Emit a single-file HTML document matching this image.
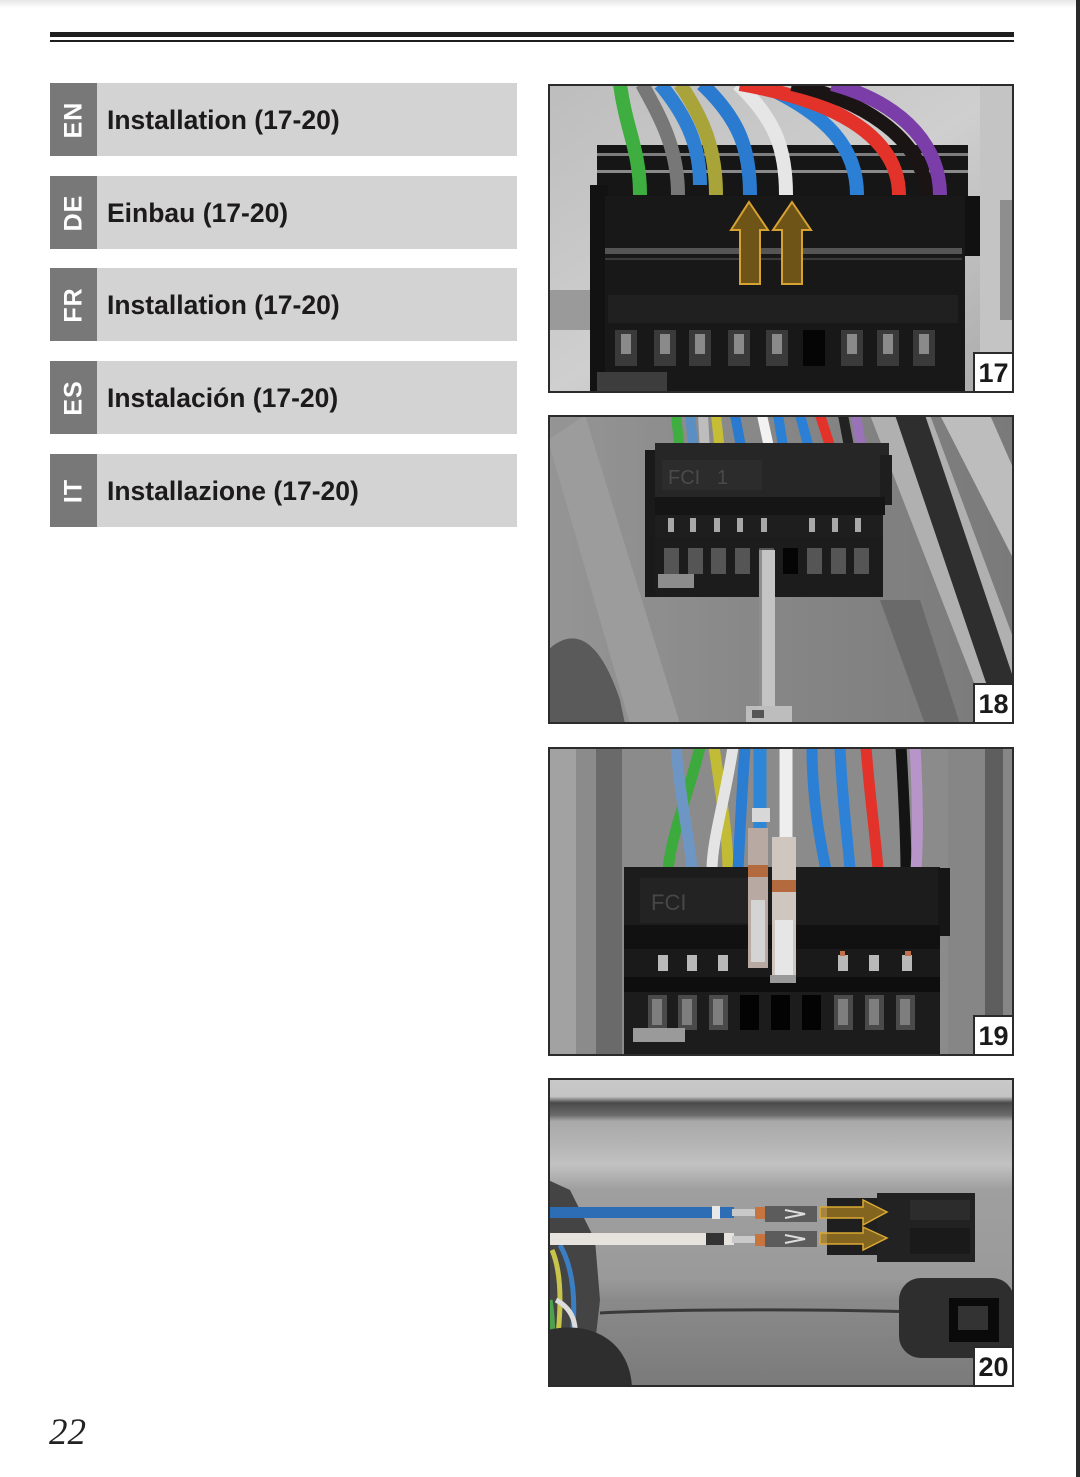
<!DOCTYPE html>
<html><head><meta charset="utf-8">
<style>
html,body{margin:0;padding:0;background:#fff;}
body{width:1080px;height:1477px;position:relative;overflow:hidden;font-family:"Liberation Sans",sans-serif;}
.abs{position:absolute;}
.bar{position:absolute;left:50px;width:467px;height:73px;background:#d3d3d3;}
.tab{position:absolute;left:0;top:0;width:47px;height:73px;background:#787878;}
.tab span{position:absolute;left:50%;top:50%;transform:translate(-50%,-50%) rotate(-90deg);color:#fff;font-weight:bold;font-size:25px;letter-spacing:1px;white-space:nowrap;line-height:1;}
.bar .t{position:absolute;left:57px;top:1px;line-height:73px;font-weight:bold;font-size:26.5px;color:#1c1a1a;white-space:nowrap;letter-spacing:0;}
.photo{position:absolute;left:548px;width:466px;height:309px;box-sizing:border-box;border:2px solid #2b2b2b;overflow:hidden;}
.photo svg{position:absolute;left:-2px;top:-2px;}
.num{position:absolute;right:-2px;bottom:-2px;width:41px;height:41px;box-sizing:border-box;border:2px solid #2b2b2b;background:#fff;font-weight:bold;font-size:27px;line-height:38px;text-align:center;color:#1a1a1a;}
</style></head>
<body>
<div class="abs" style="left:0;top:0;width:1080px;height:8px;background:linear-gradient(#e6e6e6,#fff);"></div>
<div class="abs" style="left:1076px;top:0;width:4px;height:1477px;background:#2a2a2a;"></div>
<div class="abs" style="left:50px;top:32px;width:964px;height:5px;background:#1e1e1e;"></div>
<div class="abs" style="left:50px;top:40px;width:964px;height:2px;background:#1e1e1e;"></div>

<div class="bar" style="top:83px;"><div class="tab"><span>EN</span></div><div class="t">Installation (17-20)</div></div>
<div class="bar" style="top:176px;"><div class="tab"><span>DE</span></div><div class="t">Einbau (17-20)</div></div>
<div class="bar" style="top:268px;"><div class="tab"><span>FR</span></div><div class="t">Installation (17-20)</div></div>
<div class="bar" style="top:361px;"><div class="tab"><span>ES</span></div><div class="t">Instalación (17-20)</div></div>
<div class="bar" style="top:454px;"><div class="tab"><span>IT</span></div><div class="t">Installazione (17-20)</div></div>

<!-- Photo 17 -->
<div class="photo" style="top:84px;">
<svg width="466" height="309" viewBox="548 84 466 309">
<defs>
<linearGradient id="g17" x1="0" y1="0" x2="1" y2="1"><stop offset="0" stop-color="#bdbdbd"/><stop offset="0.5" stop-color="#cfcfcf"/><stop offset="1" stop-color="#a9a9a9"/></linearGradient>
</defs>
<rect x="548" y="84" width="466" height="309" fill="url(#g17)"/>
<rect x="548" y="290" width="45" height="40" fill="#9a9a9a"/>
<rect x="980" y="84" width="34" height="309" fill="#c4c4c4"/>
<rect x="1000" y="200" width="14" height="120" fill="#8e8e8e"/>
<!-- connector -->
<rect x="597" y="145" width="371" height="52" fill="#161616"/>
<rect x="597" y="153" width="371" height="3" fill="#7d7d7d"/>
<rect x="597" y="170" width="371" height="3" fill="#8a8a8a"/>
<rect x="590" y="185" width="18" height="208" fill="#121212"/>
<rect x="962" y="196" width="18" height="60" fill="#111"/>
<rect x="605" y="196" width="360" height="197" fill="#181818"/>
<rect x="605" y="248" width="357" height="6" fill="#555"/>
<rect x="605" y="258" width="357" height="2" fill="#3a3a3a"/>
<rect x="608" y="295" width="350" height="28" fill="#202020"/>
<g fill="#3a3a3a">
<rect x="615" y="330" width="22" height="36"/><rect x="654" y="330" width="22" height="36"/><rect x="689" y="330" width="22" height="36"/><rect x="728" y="330" width="22" height="36"/><rect x="766" y="330" width="22" height="36"/><rect x="841" y="330" width="22" height="36"/><rect x="877" y="330" width="22" height="36"/><rect x="913" y="330" width="22" height="36"/>
</g>
<g fill="#8a8a8a">
<rect x="621" y="334" width="10" height="20"/><rect x="660" y="334" width="10" height="20"/><rect x="695" y="334" width="10" height="20"/><rect x="734" y="334" width="10" height="20"/><rect x="772" y="334" width="10" height="20"/><rect x="847" y="334" width="10" height="20"/><rect x="883" y="334" width="10" height="20"/><rect x="919" y="334" width="10" height="20"/>
</g>
<rect x="803" y="330" width="22" height="36" fill="#050505"/>
<rect x="597" y="372" width="70" height="21" fill="#3d3d3d"/>
<!-- wires -->
<g fill="none" stroke-width="14" stroke-linecap="butt">
<path d="M620 84 C626 130 640 150 640 195" stroke="#3dae3f"/>
<path d="M642 84 C662 120 678 150 678 195" stroke="#777"/>
<path d="M660 84 C690 120 700 150 700 185" stroke="#2e7fd2"/>
<path d="M680 84 C704 120 716 150 716 195" stroke="#a9a43a"/>
<path d="M702 84 C740 120 750 150 750 195" stroke="#2a7ad0"/>
<path d="M760 84 C830 115 857 150 857 195" stroke="#2b80d6"/>
<path d="M738 84 C776 120 786 150 786 195" stroke="#e6e6e6"/>
<path d="M740 84 C860 105 899 150 899 195" stroke="#e23229"/>
<path d="M792 84 C880 105 926 150 926 195" stroke="#1b1414"/>
<path d="M832 84 C908 105 940 150 940 195" stroke="#7b3ea8"/>
</g>
<!-- arrows -->
<g fill="#6f5417" stroke="#d6a232" stroke-width="2" stroke-linejoin="miter">
<path d="M749 202 L768 230 L760 230 L760 284 L740 284 L740 230 L731 230 Z"/>
<path d="M792 202 L811 230 L802 230 L802 284 L782 284 L782 230 L773 230 Z"/>
</g>
</svg>
<div class="num">17</div>
</div>

<!-- Photo 18 -->
<div class="photo" style="top:415px;">
<svg width="466" height="309" viewBox="548 415 466 309">
<defs>
<linearGradient id="g18" x1="0" y1="0" x2="1" y2="0"><stop offset="0" stop-color="#959595"/><stop offset="0.5" stop-color="#868686"/><stop offset="1" stop-color="#7a7a7a"/></linearGradient>
</defs>
<rect x="548" y="415" width="466" height="309" fill="url(#g18)"/>
<path d="M548 440 L585 415 L680 724 L630 724 Z" fill="#9c9c9c"/>
<path d="M548 650 C575 625 600 640 620 700 L625 724 L548 724 Z" fill="#5a5a5a"/>
<path d="M870 415 L930 415 L1014 640 L1014 724 L990 724 Z" fill="#b0b0b0"/>
<path d="M895 415 L925 415 L1014 680 L1014 724 L1000 724 Z" fill="#2e2e2e"/>
<path d="M940 415 L990 415 L1014 470 L1014 560 Z" fill="#bdbdbd"/>
<path d="M880 600 L920 600 L960 724 L925 724 Z" fill="#6a6a6a"/>
<!-- wires -->
<g fill="none" stroke-width="10">
<path d="M676 415 L680 452" stroke="#3dae3f"/>
<path d="M690 415 L694 452" stroke="#5b8fc4"/>
<path d="M703 415 L705 452" stroke="#bdbdbd"/>
<path d="M716 415 L720 452" stroke="#c4bd35"/>
<path d="M735 415 L742 452" stroke="#2a7ad0"/>
<path d="M762 415 L770 452" stroke="#f2f2f2"/>
<path d="M778 415 L784 452" stroke="#2b80d6"/>
<path d="M800 415 L810 452" stroke="#2b80d6"/>
<path d="M820 415 L832 452" stroke="#e23229"/>
<path d="M843 415 L850 452" stroke="#222"/>
<path d="M856 415 L862 452" stroke="#9a72b8"/>
</g>
<!-- connector -->
<rect x="645" y="450" width="22" height="147" fill="#1a1a1a"/>
<rect x="655" y="443" width="234" height="54" fill="#262626"/>
<rect x="880" y="455" width="12" height="50" fill="#1e1e1e"/>
<rect x="662" y="460" width="100" height="30" fill="#2c2c2c"/>
<text x="668" y="484" font-family="Liberation Sans,sans-serif" font-size="20" fill="#4a4a4a">FCI&#160;&#160;&#160;1</text>
<rect x="655" y="497" width="230" height="18" fill="#151515"/>
<rect x="655" y="515" width="228" height="22" fill="#1e1e1e"/>
<g fill="#a8a8a8">
<rect x="668" y="518" width="6" height="14"/><rect x="690" y="518" width="6" height="14"/><rect x="714" y="518" width="6" height="14"/><rect x="737" y="518" width="6" height="14"/><rect x="761" y="518" width="6" height="14"/><rect x="809" y="518" width="6" height="14"/><rect x="832" y="518" width="6" height="14"/><rect x="855" y="518" width="6" height="14"/>
</g>
<rect x="655" y="537" width="228" height="60" fill="#1c1c1c"/>
<g fill="#555">
<rect x="664" y="548" width="15" height="26"/><rect x="688" y="548" width="15" height="26"/><rect x="711" y="548" width="15" height="26"/><rect x="735" y="548" width="15" height="26"/><rect x="759" y="548" width="15" height="26"/><rect x="807" y="548" width="15" height="26"/><rect x="831" y="548" width="15" height="26"/><rect x="854" y="548" width="15" height="26"/>
</g>
<rect x="783" y="548" width="15" height="26" fill="#050505"/>
<rect x="658" y="574" width="36" height="14" fill="#8c8c8c"/>
<!-- screwdriver -->
<rect x="759" y="550" width="16" height="162" fill="#c4c4c4"/>
<rect x="759" y="550" width="3" height="162" fill="#8e8e8e"/>
<rect x="746" y="706" width="46" height="20" fill="#bdbdbd"/>
<rect x="752" y="710" width="12" height="8" fill="#555"/>
</svg>
<div class="num">18</div>
</div>

<!-- Photo 19 -->
<div class="photo" style="top:747px;">
<svg width="466" height="309" viewBox="548 747 466 309">
<rect x="548" y="747" width="466" height="309" fill="#8b8b8b"/>
<rect x="548" y="747" width="28" height="309" fill="#a2a2a2"/>
<rect x="596" y="747" width="26" height="309" fill="#6a6a6a"/>
<rect x="948" y="747" width="66" height="309" fill="#868686"/>
<rect x="985" y="747" width="18" height="309" fill="#5e5e5e"/>
<!-- wires -->
<g fill="none" stroke-width="11">
<path d="M700 747 C690 790 672 830 668 870" stroke="#3daa3d"/>
<path d="M676 747 C680 800 690 840 692 870" stroke="#6e96c4"/>
<path d="M714 747 C722 800 728 840 728 870" stroke="#c2bb35"/>
<path d="M733 747 C725 800 712 840 712 870" stroke="#e4e4e4"/>
<path d="M745 747 C742 790 740 830 738 870" stroke="#2b7dd2"/>
<path d="M812 747 C812 800 820 840 826 870" stroke="#2b80d6"/>
<path d="M840 747 C842 800 848 840 850 870" stroke="#2d82d8"/>
<path d="M866 747 C870 800 876 840 878 870" stroke="#e23229"/>
<path d="M901 747 C904 800 906 840 906 870" stroke="#141414"/>
<path d="M915 747 C918 800 918 840 916 870" stroke="#b795c9"/>
<path d="M760 747 L760 830" stroke="#2e86d6" stroke-width="13"/>
<path d="M786 747 L786 840" stroke="#eeeeee" stroke-width="13"/>
</g>
<!-- connector -->
<rect x="624" y="867" width="316" height="190" fill="#1c1c1c"/>
<rect x="938" y="868" width="12" height="68" fill="#161616"/>
<rect x="640" y="878" width="110" height="45" fill="#232323"/>
<text x="651" y="910" font-family="Liberation Sans,sans-serif" font-size="22" fill="#474747">FCI</text>
<rect x="624" y="925" width="316" height="24" fill="#111"/>
<rect x="624" y="949" width="316" height="28" fill="#1a1a1a"/>
<g fill="#b9b9b9">
<rect x="658" y="955" width="10" height="16"/><rect x="687" y="955" width="10" height="16"/><rect x="718" y="955" width="10" height="16"/><rect x="838" y="955" width="10" height="16"/><rect x="869" y="955" width="10" height="16"/><rect x="902" y="955" width="10" height="16"/>
</g>
<g fill="#c0714a"><rect x="905" y="951" width="6" height="5"/><rect x="840" y="951" width="5" height="5"/></g>
<rect x="624" y="977" width="316" height="15" fill="#0e0e0e"/>
<g fill="#4a4a4a">
<rect x="648" y="995" width="19" height="35"/><rect x="678" y="995" width="19" height="35"/><rect x="709" y="995" width="19" height="35"/><rect x="834" y="995" width="19" height="35"/><rect x="865" y="995" width="19" height="35"/><rect x="896" y="995" width="19" height="35"/>
</g>
<g fill="#7e7e7e">
<rect x="652" y="999" width="10" height="26"/><rect x="682" y="999" width="10" height="26"/><rect x="713" y="999" width="10" height="26"/><rect x="838" y="999" width="10" height="26"/><rect x="869" y="999" width="10" height="26"/><rect x="900" y="999" width="10" height="26"/>
</g>
<g fill="#030303">
<rect x="740" y="995" width="19" height="35"/><rect x="771" y="995" width="19" height="35"/><rect x="802" y="995" width="19" height="35"/>
</g>
<rect x="633" y="1028" width="52" height="14" fill="#9a9a9a"/>
<!-- terminals -->
<rect x="752" y="808" width="18" height="14" fill="#d8d8d8"/>
<rect x="748" y="828" width="20" height="140" fill="#b8aaa2"/>
<rect x="748" y="865" width="20" height="12" fill="#b36a3e"/>
<rect x="751" y="900" width="14" height="62" fill="#d4d4d4"/>
<rect x="772" y="837" width="24" height="146" fill="#cfc6bf"/>
<rect x="772" y="880" width="24" height="12" fill="#b36a3e"/>
<rect x="775" y="920" width="18" height="58" fill="#e6e6e6"/>
<rect x="770" y="975" width="26" height="8" fill="#9a9a9a"/>
</svg>
<div class="num">19</div>
</div>

<!-- Photo 20 -->
<div class="photo" style="top:1078px;">
<svg width="466" height="309" viewBox="548 1078 466 309">
<defs>
<linearGradient id="g20" x1="0" y1="0" x2="0" y2="1">
<stop offset="0" stop-color="#c9c9c9"/>
<stop offset="0.06" stop-color="#c4c4c4"/>
<stop offset="0.08" stop-color="#4a4a4a"/>
<stop offset="0.12" stop-color="#6a6a6a"/>
<stop offset="0.14" stop-color="#a9a9a9"/>
<stop offset="0.22" stop-color="#b5b5b5"/>
<stop offset="0.28" stop-color="#c2c2c2"/>
<stop offset="0.36" stop-color="#9f9f9f"/>
<stop offset="0.65" stop-color="#9a9a9a"/>
<stop offset="0.72" stop-color="#8a8a8a"/>
<stop offset="1" stop-color="#7a7a7a"/>
</linearGradient>
</defs>
<rect x="548" y="1078" width="466" height="309" fill="url(#g20)"/>
<path d="M600 1313 C700 1308 850 1310 920 1312" stroke="#3a3a3a" stroke-width="3" fill="none"/>
<!-- left bundle -->
<path d="M548 1180 L570 1190 L595 1240 L600 1300 L590 1388 L548 1388 Z" fill="#444"/>
<g fill="none" stroke-width="5">
<path d="M552 1250 C565 1280 560 1330 552 1380" stroke="#c9c44a"/>
<path d="M560 1245 C580 1280 575 1330 565 1388" stroke="#3a7ec4"/>
<path d="M556 1300 C575 1310 580 1330 570 1350" stroke="#ddd"/>
<path d="M550 1300 C555 1330 552 1360 550 1380" stroke="#4ea24e"/>
</g>
<path d="M548 1330 C590 1320 630 1340 632 1388 L548 1388 Z" fill="#2e2e2e"/>
<!-- wires -->
<rect x="548" y="1207" width="186" height="11" fill="#2d6db5"/>
<rect x="548" y="1233" width="186" height="12" fill="#e6e2de"/>
<rect x="712" y="1206" width="8" height="13" fill="#e8e8e8"/>
<rect x="706" y="1233" width="18" height="12" fill="#333"/>
<rect x="732" y="1209" width="24" height="7" fill="#c9c9c9"/>
<rect x="732" y="1236" width="24" height="7" fill="#c9c9c9"/>
<rect x="755" y="1207" width="10" height="12" fill="#c7743e"/>
<rect x="755" y="1234" width="10" height="12" fill="#c7743e"/>
<rect x="765" y="1206" width="52" height="16" fill="#5c5c5c"/>
<rect x="765" y="1231" width="52" height="16" fill="#5c5c5c"/>
<path d="M785 1210 L805 1214 L785 1218" stroke="#ddd" stroke-width="2" fill="none"/>
<path d="M785 1235 L805 1239 L785 1243" stroke="#ddd" stroke-width="2" fill="none"/>
<!-- connector -->
<rect x="827" y="1198" width="82" height="57" fill="#1f1f1f"/>
<rect x="877" y="1193" width="98" height="69" fill="#222"/>
<rect x="910" y="1200" width="60" height="20" fill="#2c2c2c"/>
<rect x="910" y="1228" width="60" height="26" fill="#1a1a1a"/>
<!-- arrows -->
<g fill="#a57d22" fill-opacity="0.75" stroke="#d9a834" stroke-width="1.5">
<path d="M820 1207 L863 1207 L863 1200 L887 1212 L863 1225 L863 1218 L820 1218 Z"/>
<path d="M820 1233 L863 1233 L863 1227 L887 1238 L863 1250 L863 1244 L820 1244 Z"/>
</g>
<!-- bottom right grommet -->
<rect x="899" y="1278" width="115" height="80" rx="22" fill="#2e2e2e"/>
<rect x="949" y="1298" width="50" height="44" fill="#0a0a0a"/>
<rect x="958" y="1306" width="30" height="24" fill="#333"/>
</svg>
<div class="num">20</div>
</div>

<div class="abs" style="left:49px;top:1413px;font-family:'Liberation Serif',serif;font-style:italic;font-size:37px;line-height:40px;color:#222;">22</div>
</body></html>
